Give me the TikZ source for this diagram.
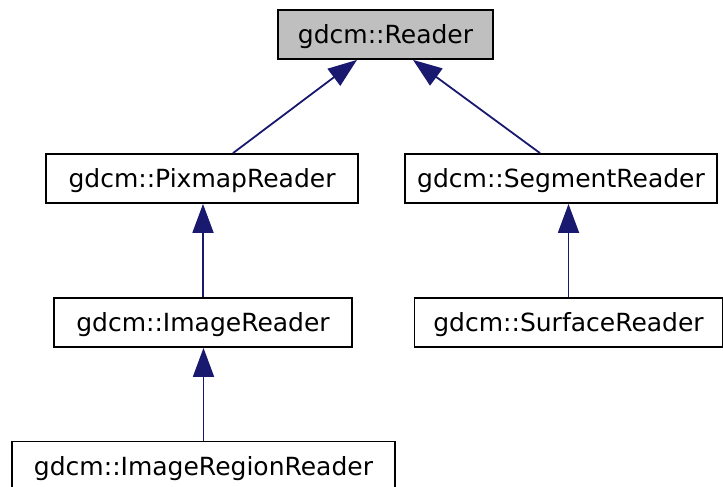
\documentclass[tikz,border=0pt]{standalone}
\usepackage{fontspec}
\setmainfont{DejaVu Sans}
\usepackage{xcolor}
\definecolor{edgeblue}{RGB}{25,25,112}
\definecolor{basegray}{RGB}{191,191,191}
\usetikzlibrary{arrows.meta, calc}

\begin{document}
\begin{tikzpicture}[x=1pt, y=-1pt,
  cls/.style={draw=black, line width=1.8pt, fill=white, inner sep=0pt,
    minimum height=49pt, text height=18pt, text depth=0pt,
    font=\fontsize{25}{28}\selectfont},
  inherit/.style={draw=edgeblue, line width=1.8pt,
    -{Triangle[length=29pt, width=21pt]}}]
  \useasboundingbox (0,0) rectangle (723,487);

  % Base class
  \node[cls, fill=basegray, minimum width=215pt] (reader) at (385.5,34.5) {gdcm::Reader};

  % Second row
  \node[cls, minimum width=312pt] (pixmapreader) at (202,178.5) {gdcm::PixmapReader};
  \node[cls, minimum width=312pt] (segmentreader) at (561,178.5) {gdcm::SegmentReader};

  % Third row
  \node[cls, minimum width=298pt] (imagereader) at (203,322.5) {gdcm::ImageReader};
  \node[cls, minimum width=308pt] (surfacereader) at (568.5,322.5) {gdcm::SurfaceReader};

  % Fourth row
  \node[cls, minimum width=383pt] (regionreader) at (203.5,466) {gdcm::ImageRegionReader};

  % Inheritance arrows
  \draw[inherit] ([xshift=31pt]pixmapreader.north) -- ([xshift=-28.5pt]reader.south);
  \draw[inherit] ([xshift=-21pt]segmentreader.north) -- ([xshift=27.5pt]reader.south);
  \draw[inherit] (imagereader.north) -- (imagereader.north |- pixmapreader.south);
  \draw[inherit] (surfacereader.north) -- (surfacereader.north |- segmentreader.south);
  \draw[inherit] (regionreader.north) -- (regionreader.north |- imagereader.south);
\end{tikzpicture}
\end{document}
